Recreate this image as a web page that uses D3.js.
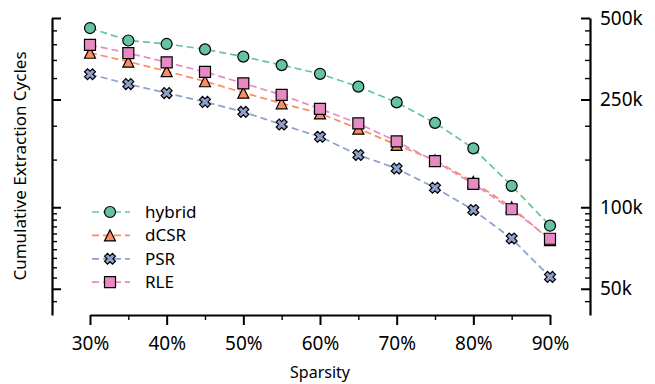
<!DOCTYPE html>
<html>
<head>
<meta charset="utf-8">
<script src="https://cdn.jsdelivr.net/npm/d3@7"></script>
<style>
  body { margin: 0; background: #fff; }
  svg { display: block; font-family: "Noto Sans", sans-serif; }
</style>
</head>
<body>
<svg id="chart" width="655" height="384"></svg>
<script>
// sparsity levels (%)
const sparsity = [30, 35, 40, 45, 50, 55, 60, 65, 70, 75, 80, 85, 90];

// cumulative extraction cycles per format
const hybrid = [459000, 413000, 401000, 383000, 360000, 335000, 311000, 279000, 244000, 205000, 165000, 120000, 85500];
const dCSR   = [372000, 345000, 318000, 292000, 265000, 242000, 222000, 195000, 170000, 149000, 124000, 100000, 75600];
const PSR    = [310000, 285000, 264000, 245000, 225000, 202000, 182000, 156000, 139000, 118000, 97700, 76700, 55300];
const RLE    = [398000, 371000, 343000, 316000, 287000, 260000, 231000, 204000, 175000, 148000, 122000, 98300, 76500];

const seriesNames = ['hybrid', 'dCSR', 'PSR', 'RLE'];
const seriesColors = ['#66c2a5', '#fc8d62', '#8da0cb', '#e78ac3'];
const seriesMarkers = ['circle', 'triangle', 'x', 'square'];

const xMajor = [30, 40, 50, 60, 70, 80, 90];
const xMinor = [35, 45, 55, 65, 75, 85];
const yMajor = [50000, 100000, 250000, 500000];
const yMajorLabels = ['50k', '100k', '250k', '500k'];
const yMinor = [45000, 55000, 60000, 65000, 70000, 75000, 80000, 85000, 90000, 95000,
                150000, 200000, 300000, 350000, 400000, 450000];

const series = [hybrid, dCSR, PSR, RLE].map((vals, i) => ({
  name: seriesNames[i],
  color: seriesColors[i],
  marker: seriesMarkers[i],
  values: vals.map((v, j) => ({ x: sparsity[j], y: v }))
}));

const svg = d3.select('#chart');

const x = d3.scaleLinear().domain([30, 90]).range([90, 550]);
const y = d3.scaleLog().domain([40000, 500000]).range([315, 18]);

const leftX = 52, rightX = 590, bottomY = 315;

function styleAxis(g, width) {
  g.select('.domain').attr('stroke', '#000').attr('stroke-width', width);
  g.selectAll('.tick line').attr('stroke', '#000');
}

// left spine: ticks point into plot, no labels
svg.append('g').attr('transform', `translate(${leftX},0)`)
  .call(d3.axisRight(y).tickValues(yMinor).tickSize(5).tickSizeOuter(0).tickFormat(''))
  .call(g => { styleAxis(g, 2.2); g.selectAll('.tick line').attr('stroke-width', 1.4); });
svg.append('g').attr('transform', `translate(${leftX},0)`)
  .call(d3.axisRight(y).tickValues(yMajor).tickSize(9).tickSizeOuter(0).tickFormat(''))
  .call(g => { g.select('.domain').remove(); g.selectAll('.tick line').attr('stroke', '#000').attr('stroke-width', 2); });

// right spine: ticks point into plot, labels outside
svg.append('g').attr('transform', `translate(${rightX},0)`)
  .call(d3.axisLeft(y).tickValues(yMinor).tickSize(5).tickSizeOuter(0).tickFormat(''))
  .call(g => { styleAxis(g, 2.2); g.selectAll('.tick line').attr('stroke-width', 1.4); });
svg.append('g').attr('transform', `translate(${rightX},0)`)
  .call(d3.axisLeft(y).tickValues(yMajor).tickSize(9).tickSizeOuter(0).tickFormat(''))
  .call(g => { g.select('.domain').remove(); g.selectAll('.tick line').attr('stroke', '#000').attr('stroke-width', 2); });
svg.append('g').attr('transform', `translate(${rightX},0)`)
  .call(d3.axisRight(y).tickValues(yMajor).tickSize(0).tickPadding(10)
    .tickFormat((d, i) => yMajorLabels[i]))
  .call(g => {
    g.select('.domain').remove();
    g.selectAll('text').attr('fill', '#000').attr('font-size', 19)
      .attr('font-family', '"Noto Sans", sans-serif');
  });

// bottom axis
svg.append('g').attr('transform', `translate(0,${bottomY})`)
  .call(d3.axisBottom(x).tickValues(xMinor).tickSize(5).tickSizeOuter(0).tickFormat(''))
  .call(g => { styleAxis(g, 2.2); g.selectAll('.tick line').attr('stroke-width', 1.4); });
svg.append('g').attr('transform', `translate(0,${bottomY})`)
  .call(d3.axisBottom(x).tickValues(xMajor).tickSize(10).tickSizeOuter(0).tickPadding(12)
    .tickFormat(d => d + '%'))
  .call(g => {
    g.select('.domain').remove();
    g.selectAll('.tick line').attr('stroke', '#000').attr('stroke-width', 2);
    g.selectAll('text').attr('fill', '#000').attr('font-size', 19)
      .attr('font-family', '"Noto Sans", sans-serif');
  });

// axis titles
svg.append('text')
  .attr('x', 320).attr('y', 378)
  .attr('text-anchor', 'middle')
  .attr('font-size', 16)
  .text('Sparsity');

svg.append('text')
  .attr('transform', 'translate(26,166) rotate(-90)')
  .attr('text-anchor', 'middle')
  .attr('font-size', 17)
  .text('Cumulative Extraction Cycles');

// marker shapes
function markerPath(type) {
  const s = 5.5;
  if (type === 'circle') return d3.symbol(d3.symbolCircle, Math.PI * s * s)();
  if (type === 'square') return `M${-s},${-s}H${s}V${s}H${-s}Z`;
  if (type === 'triangle') return `M0,${-s}L${s},${s}L${-s},${s}Z`;
  // thick "X"
  const L = 5.6, w = 2.1;
  const pts = [[w, w], [w, L], [-w, L], [-w, w], [-L, w], [-L, -w], [-w, -w], [-w, -L], [w, -L], [w, -w], [L, -w], [L, w]];
  const c = Math.SQRT1_2;
  return 'M' + pts.map(([a, b]) => [(a - b) * c, (a + b) * c].map(v => v.toFixed(2)).join(',')).join('L') + 'Z';
}

const line = d3.line().x(d => x(d.x)).y(d => y(d.y));

const plot = svg.append('g');
series.forEach(s => {
  const g = plot.append('g');
  g.append('path')
    .datum(s.values)
    .attr('d', line)
    .attr('fill', 'none')
    .attr('stroke', s.color)
    .attr('stroke-width', 1.7)
    .attr('stroke-dasharray', '7,4');
  g.selectAll('path.mark')
    .data(s.values)
    .enter()
    .append('path')
    .attr('class', 'mark')
    .attr('transform', d => `translate(${x(d.x)},${y(d.y)})`)
    .attr('d', markerPath(s.marker))
    .attr('fill', s.color)
    .attr('stroke', '#000')
    .attr('stroke-width', 1.2);
});

// legend
const legend = svg.append('g').attr('transform', 'translate(92,212)');
const rows = legend.selectAll('g')
  .data(series)
  .enter()
  .append('g')
  .attr('transform', (d, i) => `translate(0,${i * 23.4})`);
rows.append('line')
  .attr('x1', 0).attr('x2', 38).attr('y1', 0).attr('y2', 0)
  .attr('stroke', d => d.color)
  .attr('stroke-width', 1.7)
  .attr('stroke-dasharray', '7,4');
rows.append('path')
  .attr('transform', 'translate(18,0)')
  .attr('d', d => markerPath(d.marker))
  .attr('fill', d => d.color)
  .attr('stroke', '#000')
  .attr('stroke-width', 1.2);
rows.append('text')
  .attr('x', 53).attr('y', 6)
  .attr('font-size', 17)
  .text(d => d.name);
</script>
</body>
</html>
